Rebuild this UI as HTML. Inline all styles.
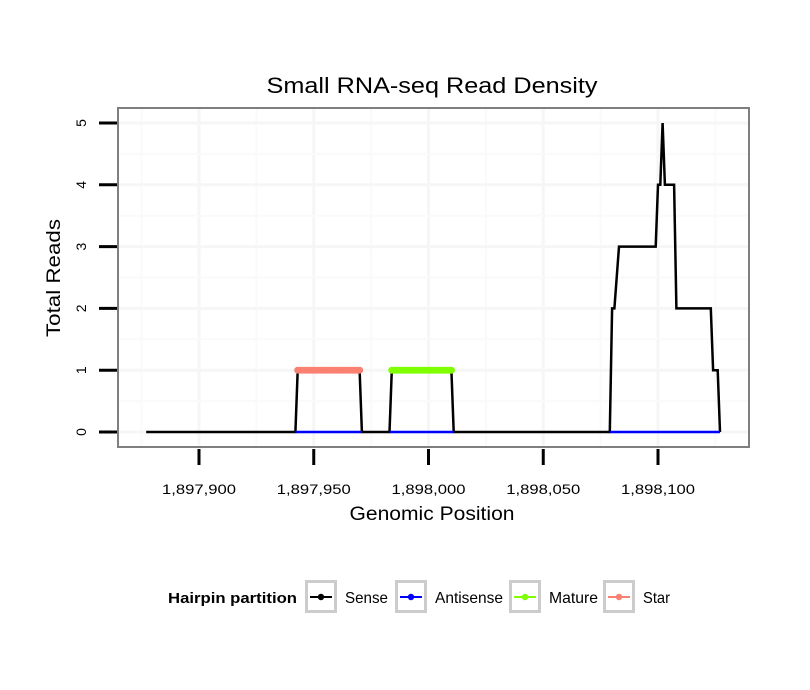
<!DOCTYPE html>
<html><head><meta charset="utf-8"><style>
body{margin:0;background:#fff;}
svg{display:block;font-family:"Liberation Sans",sans-serif;}
</style></head><body>
<svg id="chart" width="810" height="690">
<text x="432" y="93" text-anchor="middle" font-size="22" textLength="331" lengthAdjust="spacingAndGlyphs">Small RNA-seq Read Density</text>
<g id="grid"></g>
<g id="series"></g>
<rect x="118" y="108" width="631" height="339" fill="none" stroke="#7f7f7f" stroke-width="2"/>
<g id="axes"></g>
<text x="432" y="520" text-anchor="middle" font-size="19" textLength="165" lengthAdjust="spacingAndGlyphs">Genomic Position</text>
<text transform="translate(60,278) rotate(-90)" text-anchor="middle" font-size="19" textLength="118" lengthAdjust="spacingAndGlyphs">Total Reads</text>
<g>
<text x="168" y="603" font-size="15" font-weight="bold" textLength="129" lengthAdjust="spacingAndGlyphs">Hairpin partition</text>
<g id="legend"></g>
</g>
</svg>
<script>
const xTicks=[1897900,1897950,1898000,1898050,1898100];
const xTickLabels=["1,897,900","1,897,950","1,898,000","1,898,050","1,898,100"];
const yTicks=[0,1,2,3,4,5];
const sensePositions=[1897877,1897942,1897943,1897970,1897971,1897983,1897984,1898010,1898011,1898079,1898080,1898081,1898083,1898099,1898100,1898101,1898102,1898103,1898107,1898108,1898123,1898124,1898126,1898127];
const senseValues=[0,0,1,1,0,0,1,1,0,0,2,2,3,3,4,4,5,4,4,2,2,1,1,0];
const starPositions=[1897943,1897944,1897945,1897946,1897947,1897948,1897949,1897950,1897951,1897952,1897953,1897954,1897955,1897956,1897957,1897958,1897959,1897960,1897961,1897962,1897963,1897964,1897965,1897966,1897967,1897968,1897969,1897970];
const maturePositions=[1897984,1897985,1897986,1897987,1897988,1897989,1897990,1897991,1897992,1897993,1897994,1897995,1897996,1897997,1897998,1897999,1898000,1898001,1898002,1898003,1898004,1898005,1898006,1898007,1898008,1898009,1898010];
const antisenseRanges=[[1897942,1897971],[1897983,1898011],[1898079,1898127]];
const legendLabels=["Sense","Antisense","Mature","Star"];
const legendColors=["#000000","#0000ff","#7fff00","#fa8072"];
const legendWidths=[43,68,49,27];

const X=v=>199+(v-1897900)*(658-199)/200;
const Y=v=>432-v*(432-123)/5;
const NS="http://www.w3.org/2000/svg";
function mk(tag,attrs,parent){const e=document.createElementNS(NS,tag);for(const k in attrs)e.setAttribute(k,attrs[k]);parent.appendChild(e);return e;}
const grid=document.getElementById('grid'),series=document.getElementById('series'),axes=document.getElementById('axes'),legend=document.getElementById('legend');
mk('rect',{x:118,y:108,width:631,height:339,fill:'#fff'},grid);
for(let i=-1;i<xTicks.length;i++){
  const xm=X(xTicks[0]+i*50+25);
  if(xm>118&&xm<749){const l=mk('line',{x1:xm,x2:xm,y1:108,y2:447,stroke:'#fafafa','stroke-width':2},grid);
  
  }
}
xTicks.forEach((t,i)=>{
  const l=mk('line',{x1:X(t),x2:X(t),y1:108,y2:447,stroke:'#f6f6f6','stroke-width':3},grid);
  
  
  const tk=mk('line',{x1:X(t),x2:X(t),y1:449,y2:465,stroke:'#000','stroke-width':3},axes);
  
  
  const tx=mk('text',{x:X(t),y:494,'text-anchor':'middle','font-size':14,textLength:74,lengthAdjust:'spacingAndGlyphs'},axes);
  tx.textContent=xTickLabels[i];
  
  
});
for(let v=0.5;v<5.5;v+=1){const l=mk('line',{x1:118,x2:749,y1:Y(v),y2:Y(v),stroke:'#fafafa','stroke-width':2},grid);
  
  }
yTicks.forEach(t=>{
  const l=mk('line',{x1:118,x2:749,y1:Y(t),y2:Y(t),stroke:'#f6f6f6','stroke-width':3},grid);
  
  
  const tk=mk('line',{x1:99,x2:117,y1:Y(t),y2:Y(t),stroke:'#000','stroke-width':3},axes);
  
  
  const tx=mk('text',{transform:`translate(86,${Y(t)}) rotate(-90)`,'text-anchor':'middle','font-size':14},axes);
  tx.textContent=t;
  
  
});
const pts=senseValues.map((v,i)=>X(sensePositions[i]).toFixed(1)+','+Y(v).toFixed(1)).join(' ');
const sl=mk('polyline',{points:pts,fill:'none',stroke:'#000','stroke-width':2.5,'stroke-linejoin':'miter'},series);


antisenseRanges.forEach(r=>{
  const l=mk('line',{x1:X(r[0]),x2:X(r[1]),y1:Y(0),y2:Y(0),stroke:'#0000ff','stroke-width':2.5},series);
  
  
});
starPositions.forEach(p=>{
  const c=mk('circle',{cx:X(p),cy:Y(1),r:3.5,fill:'#fa8072'},series);
  
  
});
maturePositions.forEach(p=>{
  const c=mk('circle',{cx:X(p),cy:Y(1),r:3.5,fill:'#7fff00'},series);
  
  
});
const boxX=[305,395,509,603];
legendLabels.forEach((lab,i)=>{
  const g=mk('g',{},legend);
  
  
  mk('rect',{x:boxX[i]+1.5,y:581.5,width:29,height:30,fill:'#fff',stroke:'#cccccc','stroke-width':3},g);
  mk('line',{x1:boxX[i]+5,x2:boxX[i]+27,y1:597,y2:597,stroke:legendColors[i],'stroke-width':2},g);
  mk('circle',{cx:boxX[i]+16,cy:597,r:3.2,fill:legendColors[i]},g);
  const t=mk('text',{x:boxX[i]+40,y:603,'font-size':16,textLength:legendWidths[i],lengthAdjust:'spacingAndGlyphs'},g);
  t.textContent=lab;
});
</script>
</body></html>
